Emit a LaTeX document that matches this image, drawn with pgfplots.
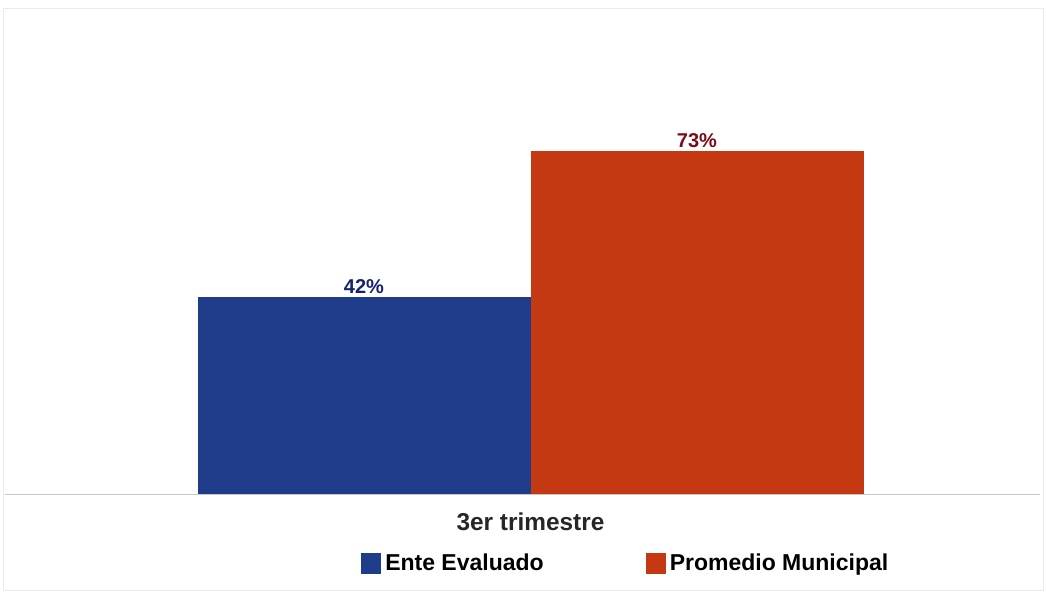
\documentclass[border=0pt]{standalone}
\usepackage{pgfplots}
\pgfplotsset{compat=1.18}
\usepackage{fontspec}
\setmainfont{Liberation Sans}
\definecolor{barblue}{RGB}{30,60,138}
\definecolor{barred}{RGB}{196,56,18}
\definecolor{lblblue}{RGB}{22,34,110}
\definecolor{lblred}{RGB}{122,14,24}
\begin{document}
\begin{tikzpicture}
\begin{axis}[
  scale only axis,
  width=523pt, height=298pt,
  xmin=0, xmax=1046,
  ymin=-21.70, ymax=105.11,
  hide axis,
  clip=false,
  /pgf/number format/assume math mode=true,
  ybar, bar width=333,
  legend columns=2,
  legend style={at={(rel axis cs:0.345,0.0545)}, anchor=west, draw=none, fill=none,
    font=\bfseries\fontsize{11.5}{13}\selectfont, inner sep=0pt,
    /tikz/every even column/.append style={column sep=49pt}},
  legend image code/.code={\fill[#1] (0pt,-5.1pt) rectangle (10pt,5.3pt);},
]
\path (rel axis cs:0,0) rectangle (rel axis cs:1,1);
\draw[black!8] (axis cs:3,-20.4) rectangle (axis cs:1043,103.4);
\draw[black!22] (axis cs:5,0) -- (axis cs:1040,0);
\addplot[fill=barblue, draw=none, bar shift=0pt,
  nodes near coords={\pgfmathprintnumber{\pgfplotspointmeta}\%},
  every node near coord/.style={text=lblblue, font=\bfseries\fontsize{10}{12}\selectfont, inner sep=1.2pt}]
  coordinates {(364,42)};
\addplot[fill=barred, draw=none, bar shift=0pt,
  nodes near coords={\pgfmathprintnumber{\pgfplotspointmeta}\%},
  every node near coord/.style={text=lblred, font=\bfseries\fontsize{10}{12}\selectfont, inner sep=1.2pt}]
  coordinates {(697,73)};
\legend{Ente Evaluado, Promedio Municipal}
\node[font=\bfseries\fontsize{12.2}{14}\selectfont, text=black!85] at (axis cs:530.5,-5.96) {3er trimestre};
\end{axis}
\end{tikzpicture}
\end{document}
